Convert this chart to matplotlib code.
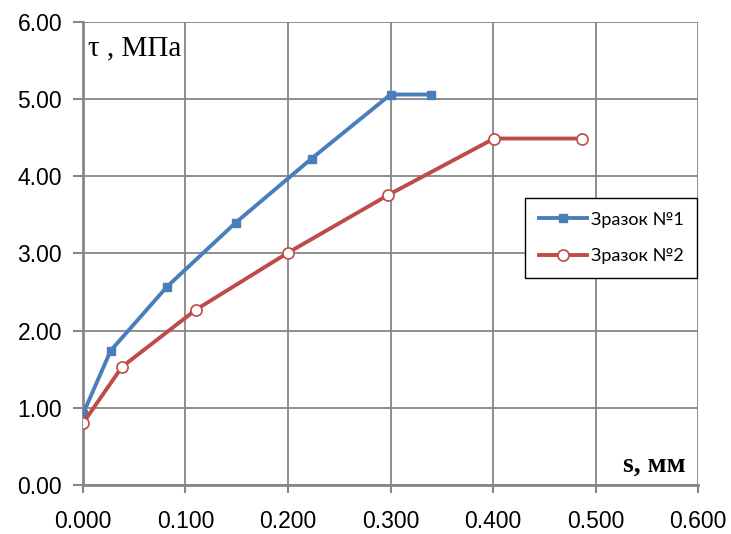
import numpy as np
import matplotlib
matplotlib.use("Agg")
import matplotlib.pyplot as plt

# data
s1 = [0.000, 0.027, 0.082, 0.149, 0.223, 0.300, 0.339]
tau1 = [0.92, 1.74, 2.57, 3.40, 4.23, 5.06, 5.06]
s2 = [0.000, 0.038, 0.110, 0.200, 0.298, 0.401, 0.487]
tau2 = [0.80, 1.53, 2.27, 3.01, 3.76, 4.49, 4.49]
series_names = ["Зразок №1", "Зразок №2"]

xticks = np.arange(0, 0.61, 0.1)
yticks = np.arange(0, 6.01, 1.0)

blue = "#4A7EBB"
red = "#BE4B48"
gridc = "#868686"

fig = plt.figure(figsize=(7.31, 5.34), dpi=100)
ax = fig.add_axes([0.1135, 0.0918, 0.8415, 0.867])

ax.plot(s1, tau1, color=blue, lw=2.8, marker="s", ms=6, mfc=blue, mec=blue,
        label=series_names[0], zorder=3)
ax.plot(s2, tau2, color=red, lw=2.8, marker="o", ms=8, mfc="white", mec=red,
        mew=1.2, label=series_names[1], zorder=3)

ax.set_xlim(0, 0.6)
ax.set_ylim(0, 6)
ax.set_xticks(xticks)
ax.set_yticks(yticks)
ax.set_xticklabels(["%.3f" % v for v in xticks])
ax.set_yticklabels(["%.2f" % v for v in yticks])
ax.tick_params(labelsize=16.5, color=gridc, width=1.5, direction="out")
ax.tick_params(axis="x", length=6, pad=12)
ax.tick_params(axis="y", length=7, pad=8)
for lab in ax.get_xticklabels() + ax.get_yticklabels():
    lab.set_family("Liberation Sans")

ax.grid(True, color=gridc, lw=1.3)
ax.set_axisbelow(True)
for side in ["top", "right"]:
    ax.spines[side].set_visible(False)
for side in ["left", "bottom"]:
    ax.spines[side].set_color(gridc)
    ax.spines[side].set_linewidth(2)

ax.text(0.005, 5.57, "τ , МПа", fontsize=21, family="Liberation Serif",
        va="baseline", ha="left")
ax.text(0.588, 0.17, "s, мм", fontsize=20, family="Liberation Serif",
        fontweight="bold", va="baseline", ha="right")

leg = ax.legend(loc="upper left", bbox_to_anchor=(0.7187, 0.62),
                prop={"family": "Lato", "size": 13}, fancybox=False,
                framealpha=1, edgecolor="black", borderpad=0.75,
                borderaxespad=0, labelspacing=1.15, handlelength=2.7,
                handletextpad=0.2)
leg.get_frame().set_linewidth(1.0)

fig.savefig("out.png", dpi=100)
